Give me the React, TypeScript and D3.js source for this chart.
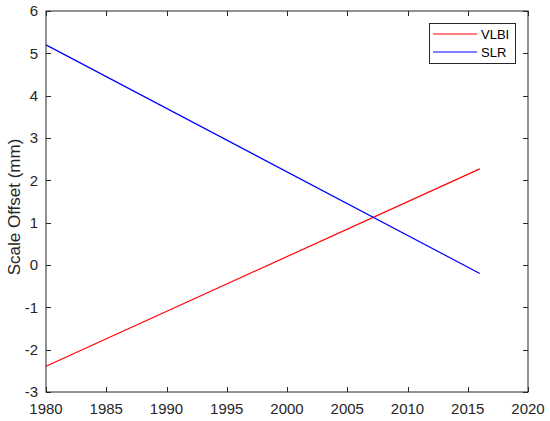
import React, { useRef, useEffect } from "react";
import * as d3 from "d3";

// data (straight trend lines, endpoints)
const years = [1980, 2016];
const vlbi = [-2.39, 2.27];
const slr = [5.2, -0.2];

const xTicks = [1980, 1985, 1990, 1995, 2000, 2005, 2010, 2015, 2020];
const yTicks = [-3, -2, -1, 0, 1, 2, 3, 4, 5, 6];

const seriesNames = ["VLBI", "SLR"];
const seriesColors = ["#ff0000", "#0000ff"];

export default function App() {
  const ref = useRef<SVGSVGElement>(null);
  const W = 550;
  const H = 421;

  useEffect(() => {
    const svg = d3.select(ref.current);
    svg.selectAll("*").remove();

    const left = 46, right = 528, top = 11, bottom = 392;
    const axisCol = "#262626";
    const font = "Liberation Sans, Arial, sans-serif";

    const x = d3.scaleLinear().domain([1980, 2020]).range([left, right]);
    const y = d3.scaleLinear().domain([-3, 6]).range([bottom, top]);

    svg.append("rect").attr("width", W).attr("height", H).attr("fill", "#fff");

    // series lines
    const line = d3
      .line<number>()
      .x((d, i) => x(years[i]))
      .y((d) => y(d));

    [vlbi, slr].forEach((vals, i) => {
      svg
        .append("path")
        .attr("d", line(vals))
        .attr("fill", "none")
        .attr("stroke", seriesColors[i])
        .attr("stroke-width", 1.2);
    });

    // box
    svg
      .append("rect")
      .attr("x", left)
      .attr("y", top)
      .attr("width", right - left)
      .attr("height", bottom - top)
      .attr("fill", "none")
      .attr("stroke", axisCol)
      .attr("stroke-width", 1);

    const tl = 5;
    // x ticks (bottom + top, inward)
    xTicks.forEach((t) => {
      const px = Math.round(x(t)) + 0.5;
      svg.append("line").attr("x1", px).attr("x2", px).attr("y1", bottom).attr("y2", bottom - tl).attr("stroke", axisCol);
      svg.append("line").attr("x1", px).attr("x2", px).attr("y1", top).attr("y2", top + tl).attr("stroke", axisCol);
      svg
        .append("text")
        .attr("x", x(t))
        .attr("y", 414)
        .attr("text-anchor", "middle")
        .attr("font-family", font)
        .attr("font-size", 15)
        .attr("fill", axisCol)
        .text(t);
    });

    // y ticks (left + right, inward)
    yTicks.forEach((t) => {
      const py = Math.round(y(t)) + 0.5;
      svg.append("line").attr("x1", left).attr("x2", left + tl).attr("y1", py).attr("y2", py).attr("stroke", axisCol);
      svg.append("line").attr("x1", right).attr("x2", right - tl).attr("y1", py).attr("y2", py).attr("stroke", axisCol);
      svg
        .append("text")
        .attr("x", 38)
        .attr("y", y(t))
        .attr("dy", "0.36em")
        .attr("text-anchor", "end")
        .attr("font-family", font)
        .attr("font-size", 15)
        .attr("fill", axisCol)
        .text(t);
    });

    // y axis label
    svg
      .append("text")
      .attr("transform", `translate(20,207) rotate(-90)`)
      .attr("text-anchor", "middle")
      .attr("font-family", font)
      .attr("font-size", 17)
      .attr("fill", axisCol)
      .text("Scale Offset (mm)");

    // legend
    const lg = svg.append("g");
    lg.append("rect")
      .attr("x", 429.5)
      .attr("y", 23.5)
      .attr("width", 86)
      .attr("height", 40)
      .attr("fill", "#fff")
      .attr("stroke", axisCol)
      .attr("stroke-width", 1);
    seriesNames.forEach((name, i) => {
      const ly = 34 + i * 18;
      lg.append("line")
        .attr("x1", 433)
        .attr("x2", 477)
        .attr("y1", ly)
        .attr("y2", ly)
        .attr("stroke", seriesColors[i])
        .attr("stroke-width", 1.2);
      lg.append("text")
        .attr("x", 481)
        .attr("y", ly)
        .attr("dy", "0.36em")
        .attr("font-family", font)
        .attr("font-size", 13)
        .attr("fill", "#000")
        .text(name);
    });
  }, []);

  return (
    <svg
      ref={ref}
      width={W}
      height={H}
      style={{ position: "absolute", left: 0, top: 0, display: "block" }}
    />
  );
}
